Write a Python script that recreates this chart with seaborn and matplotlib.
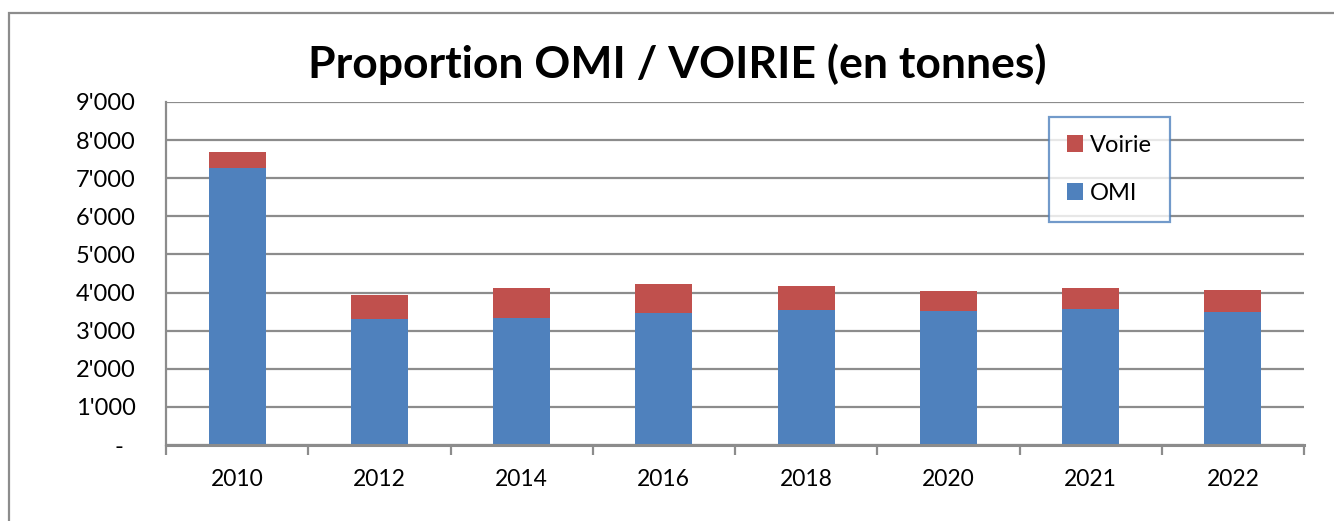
import matplotlib
matplotlib.use("Agg")
import matplotlib.pyplot as plt
import seaborn as sns
import pandas as pd
from matplotlib.patches import Rectangle, Patch

years = ["2010", "2012", "2014", "2016", "2018", "2020", "2021", "2022"]
omi = [7280, 3295, 3320, 3460, 3530, 3525, 3560, 3480]
voirie = [410, 645, 790, 760, 650, 515, 560, 600]
y_ticks = [0, 1000, 2000, 3000, 4000, 5000, 6000, 7000, 8000, 9000]
y_tick_labels = ["-  ", "1'000", "2'000", "3'000", "4'000", "5'000", "6'000", "7'000", "8'000", "9'000"]
title = "Proportion OMI / VOIRIE (en tonnes)"

BLUE = "#4F81BD"
RED = "#C0504D"
GRID = "#8C8C8C"

sns.set_theme(style="white")
plt.rcParams["font.family"] = ["Lato", "DejaVu Sans"]
plt.rcParams["text.color"] = "black"
plt.rcParams["xtick.color"] = "black"
plt.rcParams["ytick.color"] = "black"

df = pd.DataFrame({"year": years, "OMI": omi, "Voirie": voirie})
df["total"] = df["OMI"] + df["Voirie"]

fig = plt.figure(figsize=(13.34, 5.21), dpi=100)
ax = fig.add_axes([166 / 1334, 1 - 445 / 521, (1304 - 166) / 1334, (445 - 102) / 521])

sns.barplot(data=df, x="year", y="total", color=RED, width=0.4, saturation=1, ax=ax, linewidth=0)
sns.barplot(data=df, x="year", y="OMI", color=BLUE, width=0.4, saturation=1, ax=ax, linewidth=0)

ax.set_ylim(0, 9000)
ax.set_xlim(-0.5, len(years) - 0.5)
ax.set_yticks(y_ticks)
ax.set_yticklabels(y_tick_labels)
ax.set_xlabel("")
ax.set_ylabel("")
ax.yaxis.grid(True, color=GRID, linewidth=1.6)
ax.set_axisbelow(True)

for s in ["top", "right"]:
    ax.spines[s].set_visible(False)
ax.spines["left"].set_color(GRID)
ax.spines["left"].set_linewidth(1.6)
ax.spines["bottom"].set_color(GRID)
ax.spines["bottom"].set_linewidth(2.2)

ax.tick_params(axis="y", length=0, pad=22, labelsize=17, labelcolor="black")
ax.tick_params(axis="x", which="major", length=0, pad=17, labelsize=16.5, labelcolor="black")
ax.set_xticks([i - 0.5 for i in range(len(years) + 1)], minor=True)
ax.tick_params(axis="x", which="minor", length=7, width=1.6, color=GRID, direction="out", bottom=True)

fig.suptitle(title, x=677 / 1334, y=1 - 64 / 521, va="center", fontsize=32,
             fontweight="bold", color="black")

handles = [Patch(facecolor=RED, edgecolor="none"), Patch(facecolor=BLUE, edgecolor="none")]
leg = fig.legend(handles, ["Voirie", "OMI"], loc="upper left",
                 bbox_to_anchor=(1049 / 1334, 1 - 117 / 521), fontsize=17,
                 frameon=True, fancybox=False, handlelength=0.7, handleheight=0.7,
                 handletextpad=0.3, labelspacing=1.15, borderpad=0.75, borderaxespad=0)
leg.get_frame().set_edgecolor(BLUE)
leg.get_frame().set_linewidth(1.6)
for t in leg.get_texts():
    t.set_color("black")

fig.patches.append(Rectangle((9 / 1334, -0.1), 1.2, 1 - 13 / 521 + 0.1,
                             transform=fig.transFigure, fill=False,
                             edgecolor=GRID, linewidth=1.6))

fig.savefig("out.png", dpi=100, facecolor="white")
